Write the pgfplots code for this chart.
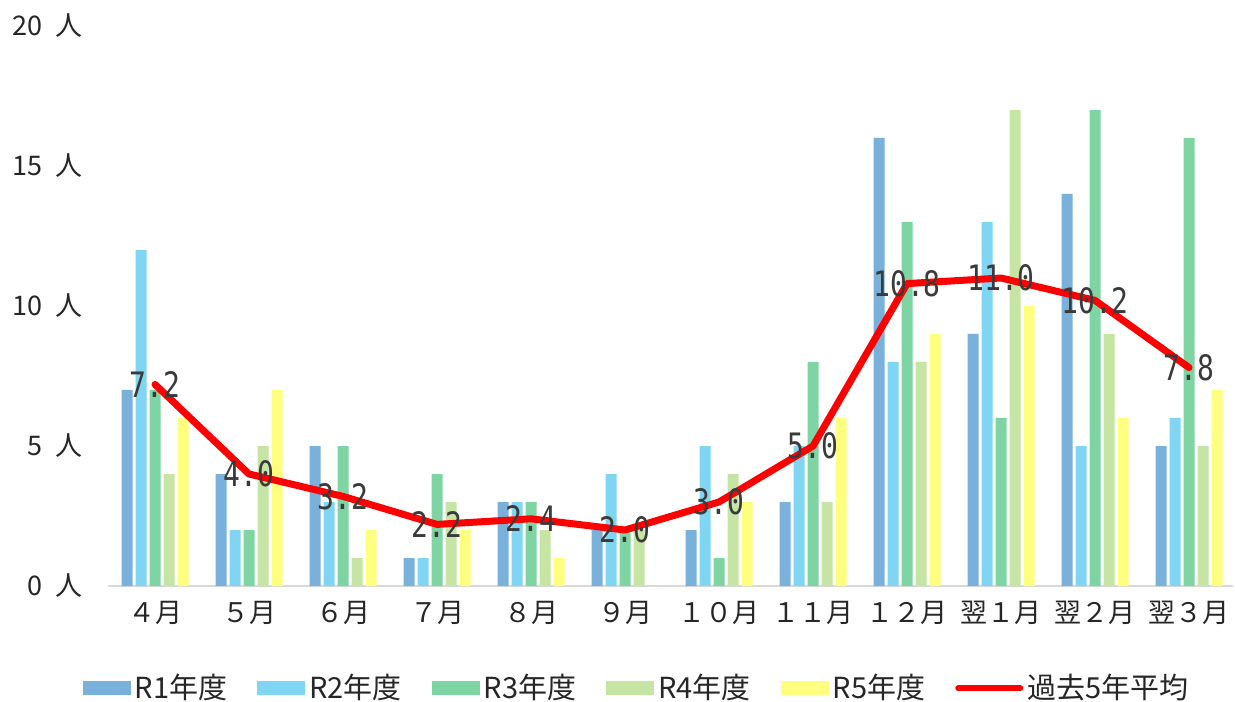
\documentclass[border=0pt]{standalone}
\usepackage{pgfplots}
\pgfplotsset{compat=1.18}
\usepackage{pgfplotstable}
\usepackage{fontspec}
\setmainfont{Noto Sans CJK JP}
\newfontfamily\monofont{DejaVu Sans Mono}
\definecolor{cA}{HTML}{7AB1DA}
\definecolor{cB}{HTML}{7FD5F2}
\definecolor{cC}{HTML}{7ED4A2}
\definecolor{cD}{HTML}{C6E5A5}
\definecolor{cE}{HTML}{FFFF7F}
\definecolor{gridc}{HTML}{D9D9D9}
\definecolor{lblc}{HTML}{3A3A3A}

\pgfplotstableread{
x r1 r2 r3 r4 r5 avg
0 7 12 7 4 6 7.2
1 4 2 2 5 7 4.0
2 5 3 5 1 2 3.2
3 1 1 4 3 2 2.2
4 3 3 3 2 1 2.4
5 2 4 2 2 0 2.0
6 2 5 1 4 3 3.0
7 3 5 8 3 6 5.0
8 16 8 13 8 9 10.8
9 9 13 6 17 10 11.0
10 14 5 17 9 6 10.2
11 5 6 16 5 7 7.8
}\datatable

\begin{document}
\begin{tikzpicture}
\useasboundingbox (0,0) rectangle (617.5pt,350.5pt);
\begin{axis}[
  at={(54pt,57.5pt)}, anchor=south west,
  scale only axis,
  width=562.5pt, height=280pt,
  xmin=-0.5, xmax=11.468,
  ymin=0, ymax=20,
  axis x line*=bottom,
  axis y line=none,
  x axis line style={gridc, line width=1pt, -},
  ytick={0,5,10,15,20},
  ymajorgrids,
  grid style={gridc, line width=1pt},
  xtick={0,...,11},
  xticklabels={４月,５月,６月,７月,８月,９月,１０月,１１月,１２月,翌１月,翌２月,翌３月},
  major tick length=0pt,
  tick label style={font=\fontsize{13.5}{15}\selectfont, text=black!85},
  xticklabel style={yshift=-4pt},
  legend columns=6,
  legend style={at={(0.4707,-0.1825)}, anchor=center, draw=none, fill=none,
    font=\fontsize{14.5}{16}\selectfont, text=black!85,
    /tikz/every even column/.append style={column sep=13pt},
    nodes={inner sep=2pt}},
  clip=false,
]
\pgfplotsinvokeforeach{0,5,10,15,20}{
  \node[anchor=east, font=\fontsize{13.5}{15}\selectfont, text=black!85] at (axis cs:-0.5,#1) [xshift=-9pt] {#1\hspace{0.5em}人};
}
\pgfplotsset{
  barleg/.style={legend image code/.code={\fill[##1] (0pt,-3.5pt) rectangle (24pt,3.5pt);}},
}
\addplot[ybar, bar width=5.5pt, bar shift=-14pt, fill=cA, draw=none, barleg] table[x=x,y=r1]{\datatable};
\addlegendentry{R1年度}
\addplot[ybar, bar width=5.5pt, bar shift=-7pt, fill=cB, draw=none, barleg] table[x=x,y=r2]{\datatable};
\addlegendentry{R2年度}
\addplot[ybar, bar width=5.5pt, bar shift=0pt, fill=cC, draw=none, barleg] table[x=x,y=r3]{\datatable};
\addlegendentry{R3年度}
\addplot[ybar, bar width=5.5pt, bar shift=7pt, fill=cD, draw=none, barleg] table[x=x,y=r4]{\datatable};
\addlegendentry{R4年度}
\addplot[ybar, bar width=5.5pt, bar shift=14pt, fill=cE, draw=none, barleg] table[x=x,y=r5]{\datatable};
\addlegendentry{R5年度}
\addplot[red, line width=3.5pt, line join=round, line cap=round, mark=none,
  legend image code/.code={\draw[red, line width=3pt] (0pt,0pt) -- (31pt,0pt);},
  nodes near coords={\scalebox{0.8}[1]{\monofont\pgfmathprintnumber[fixed,fixed zerofill,precision=1,assume math mode=true]{\pgfplotspointmeta}}},
  nodes near coords style={anchor=center, text=lblc, font=\fontsize{17.5}{17.5}\selectfont, inner sep=0pt},
  point meta=y,
] table[x=x,y=avg]{\datatable};
\addlegendentry{過去5年平均}
\end{axis}
\end{tikzpicture}
\end{document}
